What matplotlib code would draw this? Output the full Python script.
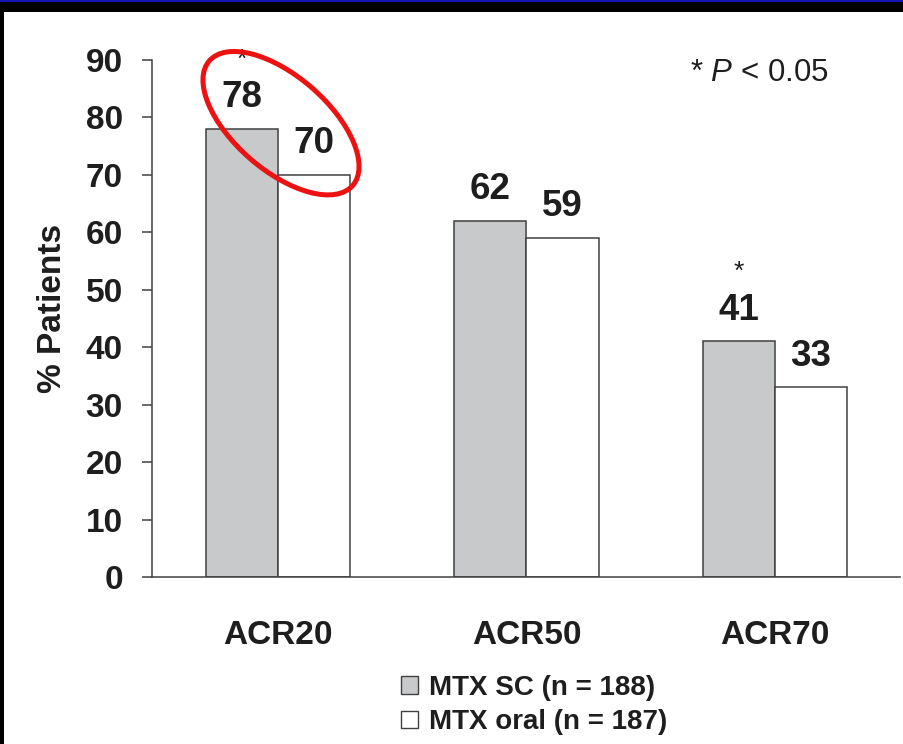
import matplotlib
matplotlib.use("Agg")
import matplotlib.pyplot as plt
import numpy as np
from matplotlib.patches import Rectangle, Ellipse, Patch

plt.rcParams['font.family'] = ['Liberation Sans', 'DejaVu Sans']
plt.rcParams['mathtext.fontset'] = 'custom'
plt.rcParams['mathtext.rm'] = 'Liberation Sans'
plt.rcParams['mathtext.it'] = 'Liberation Sans:italic'

# ---- data ----
categories = ['ACR20', 'ACR50', 'ACR70']
sc_values = [78, 62, 41]
oral_values = [70, 59, 33]
sc_significant = [True, False, True]
series_labels = ['MTX SC (n = 188)', 'MTX oral (n = 187)']
yticks = [0, 10, 20, 30, 40, 50, 60, 70, 80, 90]
ylabel = '% Patients'
note = r'* $\it{P}$ < 0.05'

W, H = 904, 744
fig = plt.figure(figsize=(W / 100, H / 100), dpi=100)
fig.patch.set_facecolor('black')
fig.add_artist(Rectangle((4 / W, 0), 1, (H - 12) / H, transform=fig.transFigure,
                         facecolor='white', edgecolor='none', zorder=-2))
fig.add_artist(Rectangle((0, (H - 2) / H), 1, 2 / H, transform=fig.transFigure,
                         facecolor='#1414b4', edgecolor='none', zorder=-1))

ax = fig.add_axes([152 / W, (H - 577) / H, (900 - 152) / W, (577 - 60) / H])
ax.set_facecolor('none')

txt = '#1e1e1e'
x = np.arange(len(categories))
bw = 0.29
edge = '#404040'
b1 = ax.bar(x - bw / 2, sc_values, bw, color='#c8c9cb', edgecolor=edge, linewidth=1.1, zorder=2)
b2 = ax.bar(x + bw / 2, oral_values, bw, color='white', edgecolor=edge, linewidth=1.1, zorder=2)

ax.set_xlim(-0.507, 2.503)
ax.set_ylim(0, 90)
ax.set_yticks(yticks)
ax.set_yticklabels([str(t) for t in yticks], fontsize=24, fontweight='bold', color=txt)
ax.set_xticks(x)
ax.set_xticklabels(categories, fontsize=24, fontweight='bold', color=txt)
ax.tick_params(axis='x', length=0, pad=31)
ax.tick_params(axis='y', length=7, width=1.1, color=edge, pad=14, direction='out')
for s in ['top', 'right']:
    ax.spines[s].set_visible(False)
for s in ['left', 'bottom']:
    ax.spines[s].set_color(edge)
    ax.spines[s].set_linewidth(1.1)
ax.set_ylabel(ylabel, fontsize=24, fontweight='bold', color=txt, labelpad=13)
ax.yaxis.label.set_y(0.52)

for bars, vals in [(b1, sc_values), (b2, oral_values)]:
    for r, v in zip(bars, vals):
        ax.annotate(str(v), (r.get_x() + r.get_width() / 2, v), xytext=(0, 10),
                    textcoords='offset points', ha='center', va='bottom',
                    fontsize=26.5, fontweight='bold', color=txt)
for r, v, sig in zip(b1, sc_values, sc_significant):
    if sig:
        ax.annotate('*', (r.get_x() + r.get_width() / 2, v), xytext=(0, 50),
                    textcoords='offset points', ha='center', va='center',
                    fontsize=19, color=txt)

fig.text(690 / W, 1 - 73 / H, note, fontsize=22.5, color=txt, ha='left', va='center')

handles = [Patch(facecolor='#c8c9cb', edgecolor=edge, linewidth=1.0),
           Patch(facecolor='white', edgecolor=edge, linewidth=1.0)]
fig.legend(handles, series_labels, loc='upper left', bbox_to_anchor=(401 / W, 1 - 675 / H),
           frameon=False, prop={'size': 20, 'weight': 'bold'}, handlelength=0.6,
           handleheight=0.6, handletextpad=0.4, labelspacing=0.3, borderpad=0,
           borderaxespad=0, labelcolor=txt)

# red highlight ellipse around the ACR20 pair
ov = fig.add_axes([0, 0, 1, 1], zorder=5)
ov.set_xlim(0, W)
ov.set_ylim(0, H)
ov.axis('off')
ov.patch.set_alpha(0)
cx, cy = ax.transData.transform((x[0], (sc_values[0] + oral_values[0]) / 2 + 5))
ov.add_patch(Ellipse((cx + 3, cy), 190, 94, angle=-41, facecolor='none',
                     edgecolor='#ee1111', linewidth=3.6))

fig.savefig('out.png', dpi=100, facecolor=fig.get_facecolor())
